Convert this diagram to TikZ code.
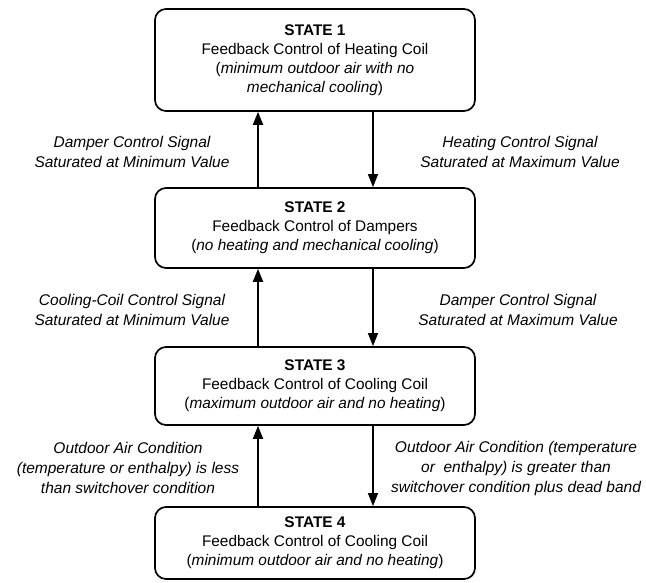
\documentclass[tikz,border=0pt]{standalone}
\usepackage{fontspec}
\setmainfont{Liberation Sans}
\usetikzlibrary{arrows.meta}
\begin{document}
\begin{tikzpicture}[x=1pt,y=-1pt,
  statebox/.style={draw,line width=1.7pt,rounded corners=11pt,minimum width=320pt,
    align=center,inner sep=0pt,font=\fontsize{15.4}{19}\selectfont},
  lbl/.style={align=center,font=\fontsize{15.5}{20}\selectfont\itshape,inner sep=0pt},
  uparr/.style={line width=2pt,-{Triangle[length=13pt,width=10pt]}},
  downarr/.style={line width=1.2pt,-{Triangle[length=13pt,width=10pt]}}]
\useasboundingbox (0,0) rectangle (646,582);
\node[statebox,minimum height=102pt] (b1) at (315,60)
  {\textbf{STATE 1}\\Feedback Control of Heating Coil\\(\textit{minimum outdoor air with no}\\\textit{mechanical cooling})};
\node[statebox,minimum height=80pt] (b2) at (315,228)
  {\textbf{STATE 2}\\Feedback Control of Dampers\\(\textit{no heating and mechanical cooling})};
\node[statebox,minimum height=78pt] (b3) at (315,386)
  {\textbf{STATE 3}\\Feedback Control of Cooling Coil\\(\textit{maximum outdoor air and no heating})};
\node[statebox,minimum height=72pt] (b4) at (315,543)
  {\textbf{STATE 4}\\Feedback Control of Cooling Coil\\(\textit{minimum outdoor air and no heating})};
\coordinate (L) at (258,0);
\coordinate (R) at (373,0);
\draw[uparr] (b2.north -| L) -- (b1.south -| L);
\draw[downarr] (b1.south -| R) -- (b2.north -| R);
\draw[uparr] (b3.north -| L) -- (b2.south -| L);
\draw[downarr] (b2.south -| R) -- (b3.north -| R);
\draw[uparr] (b4.north -| L) -- (b3.south -| L);
\draw[downarr] (b3.south -| R) -- (b4.north -| R);
\node[lbl] (l1) at (132,152) {Damper Control Signal\\Saturated at Minimum Value};
\node[lbl] (r1) at (520,152) {Heating Control Signal\\Saturated at Maximum Value};
\node[lbl] (l2) at (132,310) {Cooling-Coil Control Signal\\Saturated at Minimum Value};
\node[lbl] (r2) at (518,310) {Damper Control Signal\\Saturated at Maximum Value};
\node[lbl] (l3) at (128,468) {Outdoor Air Condition\\(\textit{temperature or enthalpy}) \textit{is less}\\\textit{than switchover condition}};
\node[lbl] (r3) at (516,468) {Outdoor Air Condition (\textit{temperature}\\\textit{or\ \ enthalpy}) \textit{is greater than}\\\textit{switchover condition plus dead band}};
\end{tikzpicture}
\end{document}
